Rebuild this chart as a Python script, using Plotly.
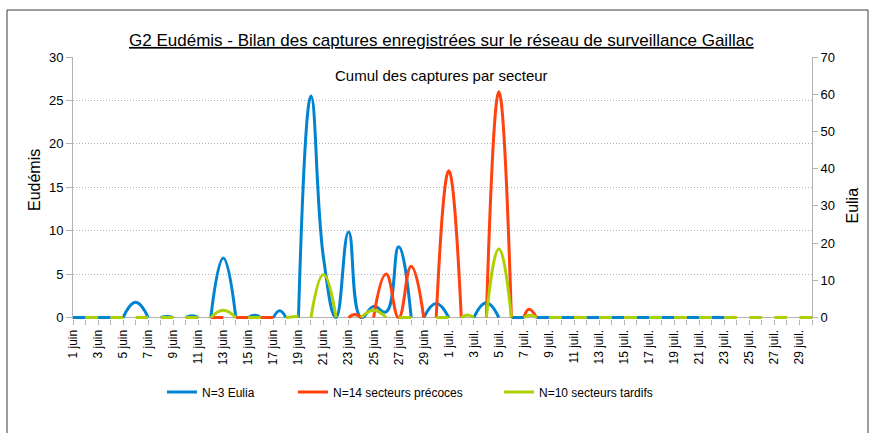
import plotly.graph_objects as go

# ---------------- data ----------------
# tick labels shown every other day (1 = 1 juin ... 31 = 1 juil. ... 60 = 30 juil.)
tick_labels = ["1 juin", "3 juin", "5 juin", "7 juin", "9 juin", "11 juin", "13 juin",
               "15 juin", "17 juin", "19 juin", "21 juin", "23 juin", "25 juin", "27 juin",
               "29 juin", "1 juil.", "3 juil.", "5 juil.", "7 juil.", "9 juil.", "11 juil.",
               "13 juil.", "15 juil.", "17 juil.", "19 juil.", "21 juil.", "23 juil.",
               "25 juil.", "27 juil.", "29 juil."]
n_days = 60

# N=3 Eulia (right axis) ; None = gap in the record
eulia_day = [1, 2, None, 3, 4, None, 5, 6, 7, None, 8, 8.5, 9, None, 10, 10.5, 11, None,
             12, 13, 14, None, 15, 15.5, 16, None, 17, 17.5, 18, None,
             19, 20, 21, 22, 23, 24, 25, 26, 27, 28, None,
             29, 30, 31, None, 33, 34, 35, None, 36, 37, None,
             38, 39, None, 40, 41, None, 42, 43, None, 44, 45, None,
             46, 47, None, 48, 49, None, 50, 51, None, 52, 53]
eulia_val = [0, 0, None, 0, 0, None, 0, 4.1, 0, None, 0, 0.3, 0, None, 0, 0.5, 0, None,
             0, 16, 0, None, 0, 0.6, 0, None, 0, 1.8, 0, None,
             0, 59.5, 16, 0, 23, 0, 3, 1.5, 19, 0, None,
             0, 3.8, 0, None, 0, 4, 0, None, 0, 0, None,
             0, 0, None, 0, 0, None, 0, 0, None, 0, 0, None,
             0, 0, None, 0, 0, None, 0, 0, None, 0, 0]

# N=14 secteurs précoces (left axis)
precoces_day = [12, 13, None, 14, 15, None, 16, 17, None,
                23, 23.5, 24, None, 25, 26, 27, 28, 29, None,
                30, 31, 32, None, 34, 35, 36, None, 37, 37.4, 38]
precoces_val = [0, 0, None, 0, 0, None, 0, 0, None,
                0, 0.35, 0, None, 0, 5.0, 0, 5.9, 0, None,
                0, 16.9, 0, None, 0, 26.0, 0, None, 0, 0.95, 0]

# N=10 secteurs tardifs (left axis)
tardifs_day = [2, 3, None, 4, 5, None, 6, 7, None, 8, 9, None, 10, 11, None,
               12, 13, 14, None, 15, 16, None, 18, 19, None, 20, 21, 22, None,
               24, 25, 26, None, 27, 28, None, 30, 31, None, 32, 32.5, 33, None,
               34, 35, 36, None, 37, 37.5, 38, None,
               39, 40, None, 41, 42, None, 43, 44, None, 45, 46, None, 47, 48, None,
               49, 50, None, 51, 52, None, 53, 54, None, 55, 56, None, 57, 58, None, 59, 60]
tardifs_val = [0, 0, None, 0, 0, None, 0, 0, None, 0, 0, None, 0, 0, None,
               0, 0.85, 0, None, 0, 0, None, 0, 0.15, None, 0, 4.95, 0, None,
               0, 0.85, 0, None, 0, 0, None, 0, 0, None, 0, 0.3, 0, None,
               0, 7.9, 0, None, 0, 0.25, 0, None,
               0, 0, None, 0, 0, None, 0, 0, None, 0, 0, None, 0, 0, None,
               0, 0, None, 0, 0, None, 0, 0, None, 0, 0, None, 0, 0, None, 0, 0]

series_names = ["N=3 Eulia", "N=14 secteurs précoces", "N=10 secteurs tardifs"]
colors = ["#0084d1", "#ff420e", "#aecf00"]

# ---------------- figure ----------------
W, H = 874, 433
ML, MR, MT, MB = 73, 62, 57, 114
PW, PH = W - ML - MR, H - MT - MB


def px_x(p):
    return (p - ML) / PW


def px_y(p):
    return (H - MB - p) / PH


FONT = "Liberation Sans, Arial, sans-serif"
GRAY = "#b3b3b3"
SMOOTH = 1.3

fig = go.Figure()
fig.add_trace(go.Scatter(x=eulia_day, y=eulia_val, name=series_names[0], mode="lines",
                         line=dict(color=colors[0], width=3, shape="spline", smoothing=SMOOTH),
                         yaxis="y", legend="legend", hoverinfo="skip"))
fig.add_trace(go.Scatter(x=precoces_day, y=precoces_val, name=series_names[1], mode="lines",
                         line=dict(color=colors[1], width=3, shape="spline", smoothing=SMOOTH),
                         yaxis="y2", legend="legend2", hoverinfo="skip"))
fig.add_trace(go.Scatter(x=tardifs_day, y=tardifs_val, name=series_names[2], mode="lines",
                         line=dict(color=colors[2], width=3, shape="spline", smoothing=SMOOTH),
                         yaxis="y2", legend="legend3", hoverinfo="skip"))

tickvals = list(range(1, n_days + 1))
ticktext = []
for d in tickvals:
    ticktext.append(tick_labels[(d - 1) // 2] if d % 2 == 1 else "")

low = -0.17
LEG_Y = px_y(392)
fig.update_layout(
    width=W, height=H,
    margin=dict(l=ML, r=MR, t=MT, b=MB),
    paper_bgcolor="white", plot_bgcolor="white",
    font=dict(family=FONT, color="#000000", size=13),
    title=dict(text="<u>G2 Eudémis - Bilan des captures enregistrées sur le réseau de surveillance Gaillac</u>",
               x=0.505, xanchor="center", y=1 - 40 / H, yref="container", yanchor="middle",
               font=dict(size=17, family=FONT, color="#000000")),
    xaxis=dict(range=[1, n_days], tickmode="array", tickvals=tickvals, ticktext=ticktext,
               tickangle=-90, ticks="outside", ticklen=5, tickcolor=GRAY, showgrid=False,
               showline=False, zeroline=False, tickfont=dict(size=12), anchor="y"),
    yaxis=dict(side="right", range=[low * 70 / 30, 70], tickmode="array",
               tickvals=[0, 10, 20, 30, 40, 50, 60, 70], showgrid=False, zeroline=False,
               showline=True, linecolor=GRAY, ticks="outside", ticklen=5, tickcolor=GRAY,
               tickfont=dict(size=13)),
    yaxis2=dict(side="left", overlaying="y", range=[low, 30], tickmode="array",
                tickvals=[0, 5, 10, 15, 20, 25, 30], showgrid=True, gridcolor=GRAY,
                griddash="1px,2px", gridwidth=1, zeroline=True, zerolinecolor=GRAY,
                zerolinewidth=1, showline=True, linecolor=GRAY, ticks="outside",
                ticklen=6, tickcolor=GRAY, tickfont=dict(size=13)),
    legend=dict(orientation="h", x=px_x(162), xanchor="left", y=LEG_Y, yanchor="middle",
                font=dict(size=12), bgcolor="rgba(0,0,0,0)"),
    legend2=dict(orientation="h", x=px_x(293), xanchor="left", y=LEG_Y, yanchor="middle",
                 font=dict(size=12), bgcolor="rgba(0,0,0,0)"),
    legend3=dict(orientation="h", x=px_x(499), xanchor="left", y=LEG_Y, yanchor="middle",
                 font=dict(size=12), bgcolor="rgba(0,0,0,0)"),
    showlegend=True,
    annotations=[
        dict(text="Cumul des captures par secteur", x=px_x(441), y=px_y(76), xref="paper",
             yref="paper", showarrow=False, font=dict(size=15), xanchor="center",
             yanchor="middle"),
        dict(text="Eudémis", x=px_x(34), y=px_y(180), xref="paper", yref="paper",
             showarrow=False, textangle=-90, font=dict(size=16), xanchor="center",
             yanchor="middle"),
        dict(text="Eulia", x=px_x(851.5), y=px_y(206), xref="paper", yref="paper",
             showarrow=False, textangle=-90, font=dict(size=16), xanchor="center",
             yanchor="middle"),
    ],
    shapes=[dict(type="rect", xref="paper", yref="paper", x0=px_x(7), x1=px_x(868),
                 y0=px_y(445), y1=px_y(10), line=dict(color="#3c3c3c", width=1),
                 fillcolor="rgba(0,0,0,0)", layer="above")],
)

fig.write_html("out.html", config={"displayModeBar": False},
               post_script="document.body.style.margin='0';")
